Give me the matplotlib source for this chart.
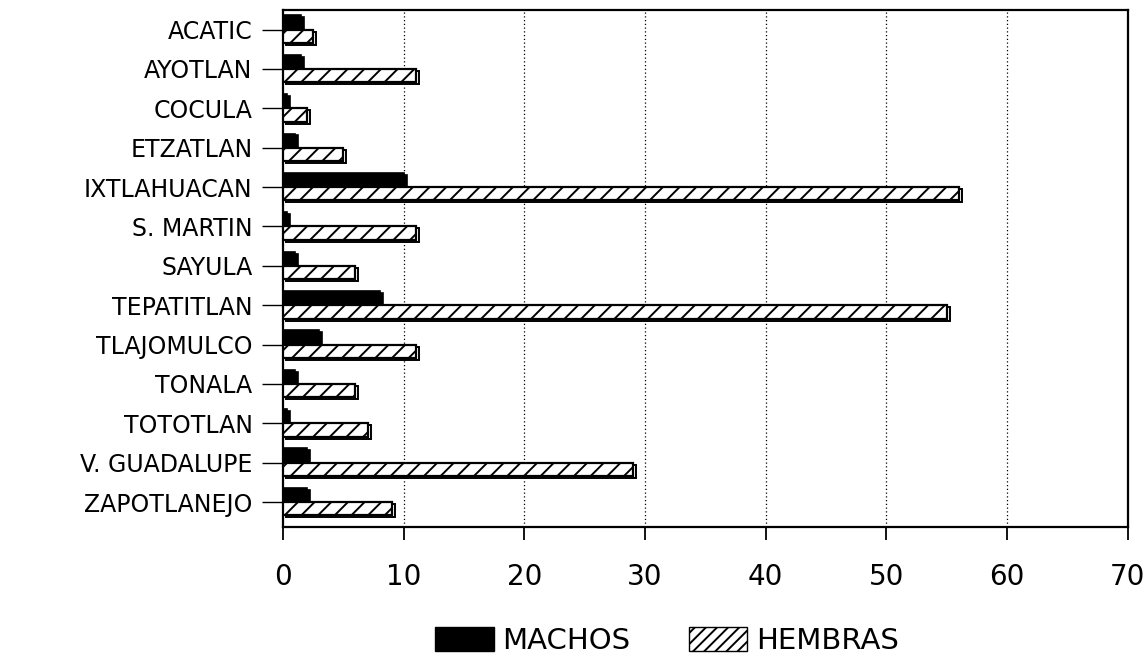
import numpy as np
import matplotlib.pyplot as plt
from matplotlib.patches import Patch

plt.rcParams['font.family'] = ['DejaVu Sans']
plt.rcParams['hatch.linewidth'] = 1.4

municipios = ['ACATIC', 'AYOTLAN', 'COCULA', 'ETZATLAN', 'IXTLAHUACAN',
              'S. MARTIN', 'SAYULA', 'TEPATITLAN', 'TLAJOMULCO', 'TONALA',
              'TOTOTLAN', 'V. GUADALUPE', 'ZAPOTLANEJO']
machos = [1.5, 1.5, 0.3, 1.0, 10, 0.3, 1.0, 8, 3, 1.0, 0.3, 2, 2]
hembras = [2.5, 11, 2, 5, 56, 11, 6, 55, 11, 6, 7, 29, 9]
xticks = [0, 10, 20, 30, 40, 50, 60, 70]

fig = plt.figure(figsize=(11.46, 6.61), dpi=100)
ax = fig.add_axes([0.247, 0.203, 0.737, 0.782])

y = np.arange(len(municipios))
h = 0.34
# small offset for the pseudo-3D side/bottom face
dx, dy = 0.25, 0.05

# depth faces drawn first, then the front faces on top
ax.barh(y - 0.19 + dy, machos, height=h, left=dx, color='black',
        edgecolor='black', linewidth=1.2, zorder=2)
ax.barh(y + 0.17 + dy, hembras, height=h, left=dx, color='white',
        edgecolor='black', linewidth=1.4, zorder=2)
ax.barh(y - 0.19, machos, height=h, color='black', edgecolor='black',
        linewidth=1.2, zorder=3)
ax.barh(y + 0.17, hembras, height=h, color='white', edgecolor='black',
        hatch='//', linewidth=1.6, zorder=4)

ax.set_xlim(0, 70)
ax.set_ylim(len(municipios) - 0.37, -0.5)
ax.set_xticks(xticks)
ax.set_xticklabels([str(v) for v in xticks], fontsize=20)
ax.set_yticks(y)
ax.set_yticklabels(municipios, fontsize=17)
ax.tick_params(axis='x', length=9, width=1.3, pad=17, direction='out')
ax.tick_params(axis='y', length=15, width=1.0, pad=7, direction='out')

for v in xticks[1:-1]:
    ax.axvline(v, color='black', linestyle=(0, (1, 2)), linewidth=0.9, zorder=1)

for s in ax.spines.values():
    s.set_linewidth(1.6)

handles = [Patch(facecolor='black', edgecolor='black', label='MACHOS'),
           Patch(facecolor='white', edgecolor='black', hatch='///', label='HEMBRAS')]
fig.legend(handles=handles, loc='center', bbox_to_anchor=(0.582, 0.03),
           ncol=2, frameon=False, fontsize=21, handlelength=2.0,
           handleheight=0.9, columnspacing=2.0, handletextpad=0.3)

fig.savefig('out.png', dpi=100)
